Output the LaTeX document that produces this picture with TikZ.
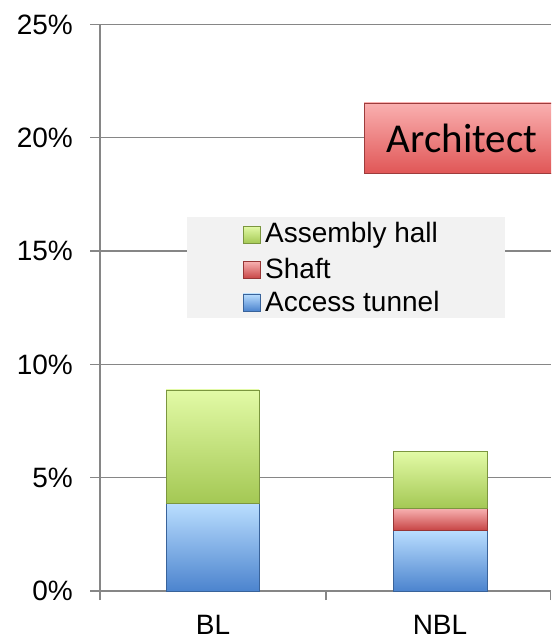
\documentclass[tikz,border=0pt]{standalone}
\usepackage{fontspec}
\setmainfont{Liberation Sans}
\newfontfamily\calibrifont{Carlito}
\usetikzlibrary{positioning}

\definecolor{gridgray}{RGB}{134,134,134}
\definecolor{legendgray}{RGB}{242,242,242}
\definecolor{halltop}{RGB}{226,250,166}
\definecolor{hallmid}{RGB}{204,236,130}
\definecolor{hallbot}{RGB}{164,200,84}
\definecolor{shafttop}{RGB}{248,178,178}
\definecolor{shaftmid}{RGB}{232,120,120}
\definecolor{shaftbot}{RGB}{200,70,70}
\definecolor{tunneltop}{RGB}{186,222,255}
\definecolor{tunnelmid}{RGB}{146,190,244}
\definecolor{tunnelbot}{RGB}{76,132,206}
\definecolor{archtop}{RGB}{250,176,176}
\definecolor{archmid}{RGB}{240,124,124}
\definecolor{archbot}{RGB}{224,86,86}

\tikzset{
  gridline/.style={draw=gridgray, line width=1.3pt},
  hallbar/.style={top color=halltop, middle color=hallmid, bottom color=hallbot, draw=hallbot!75!black, line width=0.6pt},
  shaftbar/.style={top color=shafttop, middle color=shaftmid, bottom color=shaftbot, draw=shaftbot!75!black, line width=0.6pt},
  tunnelbar/.style={top color=tunneltop, middle color=tunnelmid, bottom color=tunnelbot, draw=tunnelbot!75!black, line width=0.6pt},
  ylab/.style={anchor=east, inner sep=0pt, font=\fontsize{28}{32}\selectfont},
  catlab/.style={inner sep=0pt, font=\fontsize{28}{32}\selectfont},
  leglab/.style={anchor=base west, inner sep=0pt, font=\fontsize{28}{32}\selectfont}
}

\begin{document}
\begin{tikzpicture}[x=1pt, y=22.66pt]
\clip (-100,-2.207) rectangle (451,26.08);
\fill[white] (-100,-2.207) rectangle (451,26.08);

% gridlines and axes
\draw[gridline] (-10,5)  -- (451,5);
\draw[gridline] (-10,10) -- (451,10);
\draw[gridline] (-10,15) -- (451,15);
\draw[gridline] (-10,20) -- (451,20);
\draw[gridline] (-10,25) -- (451,25);
\draw[gridline] (-10,0)  -- (451,0);
\draw[gridline] (0,-0.4) -- (0,25);
\draw[gridline] (226,-0.4) -- (226,0);
\draw[gridline] (450.5,-0.4) -- (450.5,0);

\node[ylab] (p0)  at (-27,0)  {0\%};
\node[ylab] (p5)  at (-27,5)  {5\%};
\node[ylab] (p10) at (-27,10) {10\%};
\node[ylab] (p15) at (-27,15) {15\%};
\node[ylab] (p20) at (-27,20) {20\%};
\node[ylab] (p25) at (-27,25) {25\%};

% bars
\draw[tunnelbar] (66,0)    rectangle (159,3.88);
\draw[hallbar]   (66,3.88) rectangle (159,8.87);

\draw[tunnelbar] (293,0)    rectangle (387,2.69);
\draw[shaftbar]  (293,2.69) rectangle (387,3.65);
\draw[hallbar]   (293,3.65) rectangle (387,6.15);

\node[catlab] (bl)  at (113,-1.5) {BL};
\node[catlab] (nbl) at (340,-1.5) {NBL};

% legend
\fill[legendgray] (87,12.05) rectangle (405,16.50);
\draw[hallbar]   (143,15.34) rectangle (160,16.09);
\draw[shaftbar]  (143,13.80) rectangle (160,14.55);
\draw[tunnelbar] (143,12.36) rectangle (160,13.11);
\node[leglab] (hall)   at (165,15.36) {Assembly hall};
\node[leglab] (shaft)  at (165,13.81) {Shaft};
\node[leglab] (tunnel) at (165,12.35) {Access tunnel};

% label box
\draw[top color=archtop, middle color=archmid, bottom color=archbot, draw=archbot!70!black, line width=0.6pt] (264,18.42) rectangle (470,21.54);
\node[inner sep=0pt, font=\calibrifont\fontsize{41}{46}\selectfont] (arch) at (362,19.98) {Architect};

\end{tikzpicture}
\end{document}
